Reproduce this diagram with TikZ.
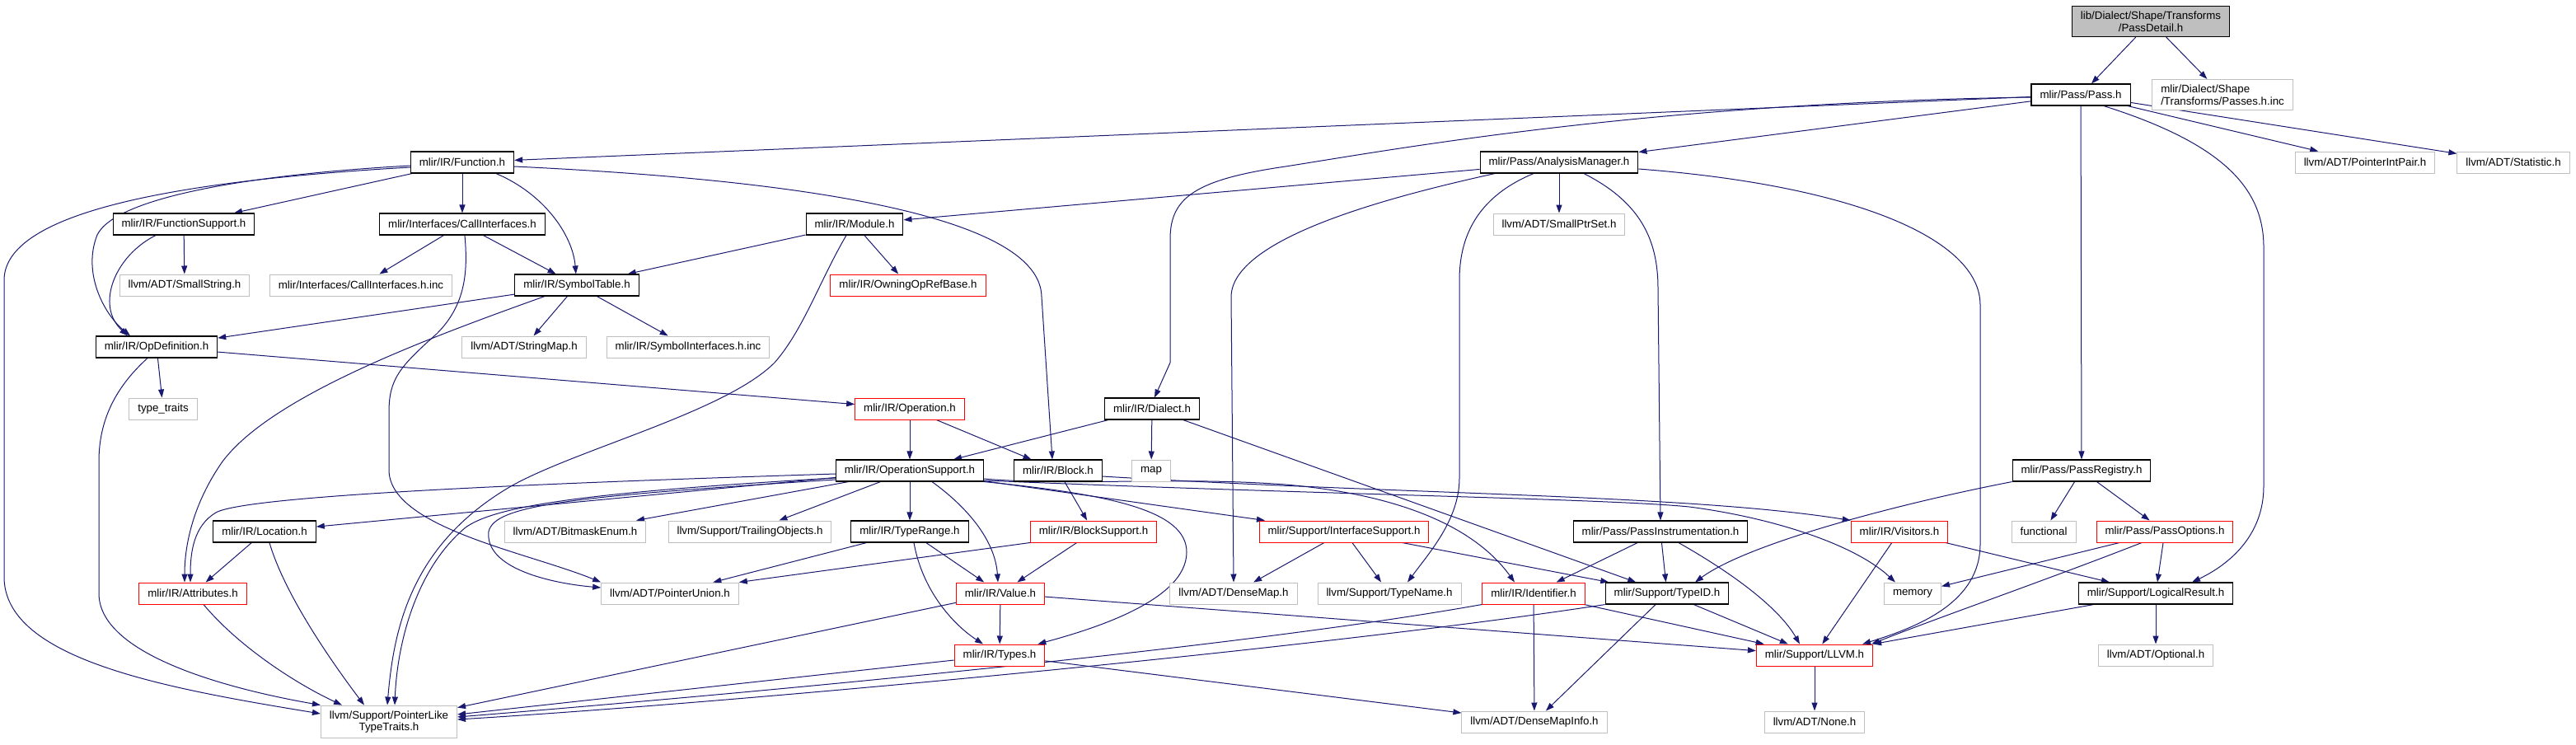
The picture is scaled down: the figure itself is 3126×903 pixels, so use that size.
\documentclass[tikz,border=0pt]{standalone}
\usepackage{fontspec}
\setmainfont{Liberation Sans}
\usepackage{tikz}
\usetikzlibrary{arrows.meta, backgrounds}
\definecolor{edgeblue}{HTML}{191970}
\definecolor{grey75}{HTML}{BFBFBF}
\definecolor{cutred}{HTML}{FF0000}

\begin{document}
\begin{tikzpicture}[x=1pt, y=-1pt]
                        \tikzset{
                            hdr/.style={
                                    draw=black, line width=1.1pt, fill=white, rectangle,
                                    inner xsep=10.5pt, inner ysep=6.5pt, minimum height=26pt,
                                    font=\fontsize{13.3}{14.5}\selectfont
                                },
                            sys hdr/.style={hdr, draw=grey75, line width=1pt},
                            cut hdr/.style={hdr, draw=cutred, line width=1pt},
                            dep/.style={
                                    draw=edgeblue, line width=1pt,
                                    -{Triangle[length=10pt, width=7pt]}
                                }
                        }
                        \useasboundingbox (0,0) rectangle (3126,903);

                        % headers, row by row
                        \node[hdr, fill=grey75, align=center] (pd) at (2610,26) {lib/Dialect/Shape/Transforms\\/PassDetail.h};
                        \node[hdr] (pass) at (2525,115) {mlir/Pass/Pass.h};
                        \node[sys hdr, align=left] (passinc) at (2697,115) {mlir/Dialect/Shape\\/Transforms/Passes.h.inc};

                        \node[hdr] (func) at (561,197) {mlir/IR/Function.h};
                        \node[hdr] (am) at (1892,197) {mlir/Pass/AnalysisManager.h};
                        \node[sys hdr] (pip) at (2870,197) {llvm/ADT/PointerIntPair.h};
                        \node[sys hdr] (stat) at (3050,197) {llvm/ADT/Statistic.h};

                        \node[hdr] (fsup) at (223,272) {mlir/IR/FunctionSupport.h};
                        \node[hdr] (cif) at (561,272) {mlir/Interfaces/CallInterfaces.h};
                        \node[hdr] (mod) at (1037,272) {mlir/IR/Module.h};
                        \node[sys hdr] (sps) at (1892,272) {llvm/ADT/SmallPtrSet.h};

                        \node[sys hdr] (sstr) at (224,346) {llvm/ADT/SmallString.h};
                        \node[sys hdr] (cifinc) at (438,346) {mlir/Interfaces/CallInterfaces.h.inc};
                        \node[hdr] (symt) at (700,346) {mlir/IR/SymbolTable.h};
                        \node[cut hdr] (owning) at (1102,346) {mlir/IR/OwningOpRefBase.h};

                        \node[hdr] (opdef) at (190,421) {mlir/IR/OpDefinition.h};
                        \node[sys hdr] (smap) at (636,421) {llvm/ADT/StringMap.h};
                        \node[sys hdr] (syminc) at (835,421) {mlir/IR/SymbolInterfaces.h.inc};

                        \node[sys hdr] (ttraits) at (198,496) {type\_traits};
                        \node[cut hdr] (op) at (1104,496) {mlir/IR/Operation.h};
                        \node[hdr] (dialect) at (1398,496) {mlir/IR/Dialect.h};

                        \node[hdr] (opsup) at (1104,571) {mlir/IR/OperationSupport.h};
                        \node[hdr] (block) at (1284,571) {mlir/IR/Block.h};
                        \node[sys hdr] (map) at (1397,571) {map};
                        \node[hdr] (preg) at (2526,571) {mlir/Pass/PassRegistry.h};

                        \node[hdr] (loc) at (321,645) {mlir/IR/Location.h};
                        \node[sys hdr] (bmask) at (698,645) {llvm/ADT/BitmaskEnum.h};
                        \node[sys hdr] (trail) at (910,645) {llvm/Support/TrailingObjects.h};
                        \node[hdr] (trange) at (1104,645) {mlir/IR/TypeRange.h};
                        \node[cut hdr] (bsup) at (1327,645) {mlir/IR/BlockSupport.h};
                        \node[cut hdr] (isup) at (1631,645) {mlir/Support/InterfaceSupport.h};
                        \node[hdr] (pinstr) at (2015,645) {mlir/Pass/PassInstrumentation.h};
                        \node[cut hdr] (visit) at (2305,645) {mlir/IR/Visitors.h};
                        \node[sys hdr] (functional) at (2480,645) {functional};
                        \node[cut hdr] (popt) at (2627,645) {mlir/Pass/PassOptions.h};

                        \node[cut hdr] (attr) at (234,720) {mlir/IR/Attributes.h};
                        \node[sys hdr] (punion) at (813,720) {llvm/ADT/PointerUnion.h};
                        \node[cut hdr] (value) at (1214,720) {mlir/IR/Value.h};
                        \node[sys hdr] (dmap) at (1497,720) {llvm/ADT/DenseMap.h};
                        \node[sys hdr] (tname) at (1686,720) {llvm/Support/TypeName.h};
                        \node[cut hdr] (ident) at (1861,720) {mlir/IR/Identifier.h};
                        \node[hdr] (typeid) at (2023,720) {mlir/Support/TypeID.h};
                        \node[sys hdr] (memory) at (2321,720) {memory};
                        \node[hdr] (lr) at (2616,720) {mlir/Support/LogicalResult.h};

                        \node[cut hdr] (types) at (1213,795) {mlir/IR/Types.h};
                        \node[cut hdr] (llvm) at (2202,795) {mlir/Support/LLVM.h};
                        \node[sys hdr] (opt) at (2616,795) {llvm/ADT/Optional.h};

                        \node[sys hdr, align=center] (ptrlike) at (472,876) {llvm/Support/PointerLike\\TypeTraits.h};
                        \node[sys hdr] (dminfo) at (1862,876) {llvm/ADT/DenseMapInfo.h};
                        \node[sys hdr] (nonehdr) at (2202,876) {llvm/ADT/None.h};

                        \begin{scope}[on background layer]
                        % PassDetail.h and Pass.h
                        \draw[dep] (pd) -- (pass);
                        \draw[dep] (pd) -- (passinc);
                        \draw[dep] (pass) -- (func);
                        \draw[dep] ([yshift=-3pt]pass.west) .. controls (2000,125) and (1700,180) .. (1560,202)
                            .. controls (1450,218) and (1420,240) .. (1420,290) -- (1420,440) -- ([xshift=3pt]dialect.north);
                        \draw[dep] (pass) -- (am);
                        \draw[dep] (pass) -- (preg);
                        \draw[dep] (pass) -- (pip);
                        \draw[dep] (pass) -- (stat);
                        \draw[dep] ([xshift=28pt]pass.south) .. controls (2700,175) and (2747,230) .. (2747,300)
                            -- (2747,590) .. controls (2747,650) and (2705,685) .. ([xshift=44pt]lr.north);

                        % Function.h
                        \draw[dep] (func) -- (fsup);
                        \draw[dep] (func) -- (cif);
                        \draw[dep] ([xshift=41pt]func.south) .. controls (660,235) and (695,285) .. (symt);
                        \draw[dep] ([yshift=-5pt]func.east) .. controls (900,215) and (1262,250) .. (1264,360)
                            -- ([xshift=-7pt]block.north);
                        \draw[dep] ([yshift=-4pt]func.west) .. controls (300,212) and (140,240) .. (118,285)
                            .. controls (100,330) and (125,380) .. ([xshift=-32pt]opdef.north);
                        \draw[dep] ([yshift=-6pt]func.west) .. controls (200,220) and (5,260) .. (5,340)
                            -- (5,700) .. controls (5,800) and (200,835) .. ([yshift=10pt]ptrlike.west);

                        \draw[dep] (fsup) -- (sstr);
                        \draw[dep] ([xshift=-34pt]fsup.south) .. controls (140,310) and (115,370) .. ([xshift=-35pt]opdef.north);

                        \draw[dep] (cif) -- (cifinc);
                        \draw[dep] (cif) -- (symt);
                        \draw[dep] ([xshift=3pt]cif.south) .. controls (568,330) and (565,370) .. (530,405)
                            .. controls (485,445) and (472,460) .. (472,500) -- (472,570)
                            .. controls (472,640) and (640,670) .. (punion.north west);

                        \draw[dep] (symt) -- (opdef);
                        \draw[dep] (symt) -- (smap);
                        \draw[dep] (symt) -- (syminc);
                        \draw[dep] ([xshift=-39pt]symt.south) .. controls (520,410) and (330,480) .. (270,560)
                            .. controls (235,610) and (224,660) .. ([xshift=-10pt]attr.north);

                        \draw[dep] (mod) -- (symt);
                        \draw[dep] (mod) -- (owning);
                        \draw[dep] ([xshift=-10pt]mod.south) .. controls (995,340) and (975,400) .. (940,440)
                            .. controls (880,500) and (700,545) .. (620,590)
                            .. controls (500,660) and (478,760) .. ([xshift=-2pt]ptrlike.north);

                        % AnalysisManager.h
                        \draw[dep] (am) -- (mod);
                        \draw[dep] (am) -- (sps);
                        \draw[dep] ([xshift=-78pt]am.south) .. controls (1680,240) and (1495,290) .. (1494,360) -- (dmap.north);
                        \draw[dep] ([xshift=-31pt]am.south) .. controls (1790,240) and (1771,290) .. (1771,340)
                            -- (1771,580) .. controls (1771,630) and (1735,670) .. ([xshift=22pt]tname.north);
                        \draw[dep] ([xshift=30pt]am.south) .. controls (1990,245) and (2012,290) .. (2012,350) -- (pinstr.north);
                        \draw[dep] ([yshift=-8pt]am.east) .. controls (2250,225) and (2403,290) .. (2403,370)
                            -- (2403,660) .. controls (2403,730) and (2330,760) .. ([xshift=-13pt]llvm.north east);

                        % IR core
                        \draw[dep] (dialect) -- (opsup);
                        \draw[dep] (dialect) -- (map);
                        \draw[dep] (dialect) -- (typeid);
                        \draw[dep] (op) -- (opsup);
                        \draw[dep] (op) -- (block);

                        \draw[dep] (opdef) -- (ttraits);
                        \draw[dep] (opdef) -- (op);
                        \draw[dep] ([xshift=-11pt]opdef.south) .. controls (140,470) and (120,510) .. (120,560)
                            -- (120,720) .. controls (120,800) and (300,840) .. (ptrlike.north west);

                        \draw[dep] (loc) -- (attr);
                        \draw[dep] ([xshift=6pt]loc.south) .. controls (345,720) and (400,800) .. ([xshift=-30pt]ptrlike.north);
                        \draw[dep] ([xshift=13pt]attr.south) .. controls (290,785) and (360,830) .. ([xshift=-57pt]ptrlike.north);

                        \draw[dep] ([yshift=-4pt]opsup.west) .. controls (700,585) and (300,600) .. (262,622)
                            .. controls (235,638) and (231,670) .. ([xshift=-3pt]attr.north);
                        \draw[dep] (opsup) -- (loc);
                        \draw[dep] ([yshift=-9pt]opsup.west) .. controls (700,598) and (600,615) .. (565,640)
                            .. controls (505,690) and (482,780) .. ([xshift=7pt]ptrlike.north);
                        \draw[dep] ([yshift=-11pt]opsup.west) .. controls (700,602) and (600,612) .. (593,645)
                            .. controls (588,690) and (670,708) .. ([yshift=7pt]punion.west);
                        \draw[dep] (opsup) -- (bmask);
                        \draw[dep] (opsup) -- (trail);
                        \draw[dep] (opsup) -- (trange);
                        \draw[dep] ([xshift=27pt]opsup.south) .. controls (1180,620) and (1208,660) .. ([xshift=-3pt]value.north);
                        \draw[dep] (opsup.south east) .. controls (1350,600) and (1440,620) .. (1440,670)
                            .. controls (1440,730) and (1320,765) .. ([xshift=-9pt]types.north east);
                        \draw[dep] (opsup) -- (isup);
                        \draw[dep] ([yshift=-10pt]opsup.east) .. controls (1300,590) and (1430,578) .. (1560,588)
                            .. controls (1700,600) and (1790,640) .. ([xshift=-23pt]ident.north);
                        \draw[dep] ([yshift=-12pt]opsup.east) .. controls (1600,600) and (1950,605) .. (2050,615)
                            .. controls (2150,628) and (2250,660) .. ([xshift=-21pt]memory.north);

                        \draw[dep] (block) -- (bsup);
                        \draw[dep] ([yshift=-7pt]block.east) .. controls (1700,600) and (2050,600) .. (visit.north west);

                        \draw[dep] (trange) -- (punion);
                        \draw[dep] (trange) -- (value);
                        \draw[dep] ([xshift=5pt]trange.south) .. controls (1120,720) and (1160,760) .. ([xshift=-20pt]types.north);
                        \draw[dep] (bsup.south west) -- (punion.north east);
                        \draw[dep] (bsup) -- (value);

                        \draw[dep] (isup) -- (dmap);
                        \draw[dep] (isup) -- (tname);
                        \draw[dep] (isup) -- (typeid);

                        \draw[dep] (value) -- (types);
                        \draw[dep] (value) -- (ptrlike);
                        \draw[dep] (value) -- (llvm);
                        \draw[dep] (types) -- (ptrlike);
                        \draw[dep] (types) -- (dminfo);

                        % Support headers
                        \draw[dep] (ident.south west) .. controls (1500,787) and (900,842) .. ([yshift=6pt]ptrlike.east);
                        \draw[dep] (ident) -- (dminfo);
                        \draw[dep] (ident) -- (llvm);
                        \draw[dep] (typeid.south west) .. controls (1600,787) and (900,852) .. ([yshift=3pt]ptrlike.east);
                        \draw[dep] (typeid) -- (dminfo);
                        \draw[dep] (typeid) -- (llvm);

                        \draw[dep] (pinstr) -- (ident);
                        \draw[dep] (pinstr) -- (typeid);
                        \draw[dep] ([xshift=22pt]pinstr.south) .. controls (2110,700) and (2160,740) .. ([xshift=-18pt]llvm.north);
                        \draw[dep] (visit) -- (llvm);
                        \draw[dep] (visit) -- (lr);

                        \draw[dep] (preg.south west) .. controls (2300,612) and (2120,660) .. ([xshift=34pt]typeid.north);
                        \draw[dep] (preg) -- (functional);
                        \draw[dep] (preg) -- (popt);
                        \draw[dep] (popt) -- (memory);
                        \draw[dep] ([xshift=-28pt]popt.south) .. controls (2480,705) and (2350,750) .. ([xshift=-2pt]llvm.north east);
                        \draw[dep] (popt) -- (lr);
                        \draw[dep] (lr) -- (llvm.north east);
                        \draw[dep] (lr) -- (opt);
                        \draw[dep] (llvm) -- (nonehdr);
                        \end{scope}
                    \end{tikzpicture}
\end{document}
